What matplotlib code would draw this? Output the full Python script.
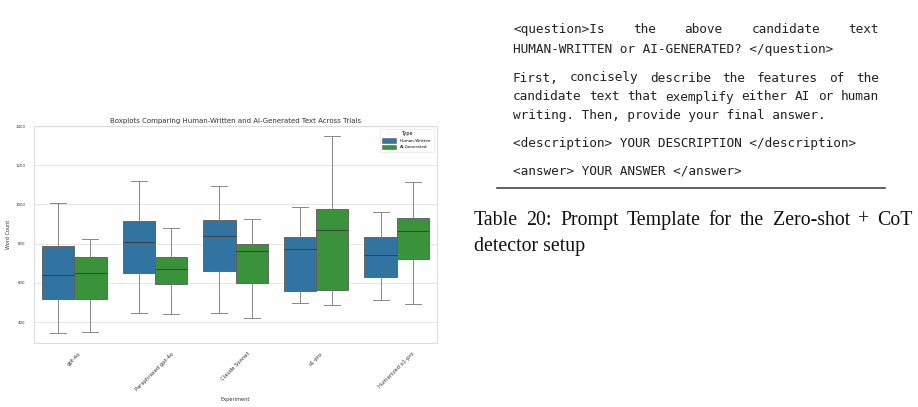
import numpy as np
import matplotlib
matplotlib.use('Agg')
import matplotlib.pyplot as plt
from matplotlib.patches import Patch

# Box statistics (word counts)
experiments = ["gpt-4o", "Paraphrased gpt-4o", "Claude Sonnet", "o1-pro", "Humanized o1-pro"]
types = ["Human-Written", "AI-Generated"]

human_whislo = [345, 445, 445, 495, 510]
human_q1 = [516, 649, 662, 557, 630]
human_med = [642, 810, 841, 775, 744]
human_q3 = [790, 917, 919, 836, 836]
human_whishi = [1007, 1117, 1095, 988, 963]

ai_whislo = [350, 440, 418, 488, 494]
ai_q1 = [518, 596, 599, 561, 724]
ai_med = [652, 673, 764, 871, 866]
ai_q3 = [734, 734, 800, 978, 929]
ai_whishi = [825, 881, 925, 1349, 1112]

colors = ["#3274a1", "#3a923a"]
line_color = "#606060"

W, H = 918, 407
fig = plt.figure(figsize=(W / 100, H / 100), dpi=100)
fig.patch.set_facecolor("white")

def fx(px):
    return px / W

def fy(py):
    return 1 - py / H

ax = fig.add_axes([fx(34), fy(343), fx(437) - fx(34), fy(126) - fy(343)])


def make_stats(lo, q1, med, q3, hi):
    stats = []
    for i in range(len(lo)):
        stats.append(dict(whislo=lo[i], q1=q1[i], med=med[i], q3=q3[i],
                          whishi=hi[i], fliers=[]))
    return stats


groups = [
    make_stats(human_whislo, human_q1, human_med, human_q3, human_whishi),
    make_stats(ai_whislo, ai_q1, ai_med, ai_q3, ai_whishi),
]
x = np.arange(len(experiments))
offsets = [-0.2, 0.2]
lw = 0.65
for stats, off, c in zip(groups, offsets, colors):
    ax.bxp(stats, positions=x + off, widths=0.4, patch_artist=True,
           showfliers=False, capwidths=0.2, manage_ticks=False,
           boxprops=dict(facecolor=c, edgecolor=line_color, linewidth=lw),
           medianprops=dict(color="#3c3c3c", linewidth=lw),
           whiskerprops=dict(color="#808080", linewidth=lw),
           capprops=dict(color="#808080", linewidth=lw),
           zorder=3)

ax.set_xlim(-0.5, len(experiments) - 0.5)
ax.set_ylim(293, 1400)
ax.set_yticks([400, 600, 800, 1000, 1200, 1400])
ax.set_xticks(x)
ax.set_xticklabels(experiments, rotation=45, fontsize=3.8, color="#333333")
ax.tick_params(axis="y", labelsize=2.9, labelcolor="#333333")
ax.tick_params(length=0, pad=6)
ax.yaxis.grid(True, color="#e6e6e6", linewidth=0.8, zorder=0)
ax.set_axisbelow(True)
for s in ax.spines.values():
    s.set_color("#dddddd")
    s.set_linewidth(0.8)
ax.set_title("Boxplots Comparing Human-Written and AI-Generated Text Across Trials",
             fontsize=5.0, color="#333333", pad=2.5)
ax.set_xlabel("Experiment", fontsize=3.6, color="#333333", labelpad=4)
ax.set_ylabel("Word Count", fontsize=3.6, color="#333333", labelpad=3)

handles = [Patch(facecolor=c, edgecolor=line_color, linewidth=0.4) for c in colors]
leg = ax.legend(handles, types, title="Type", loc="upper right", fontsize=3.0,
                title_fontsize=3.6, frameon=True, handlelength=3.4,
                handleheight=1.2, borderpad=0.6, labelspacing=0.5,
                bbox_to_anchor=(0.997, 0.997))
leg.get_frame().set_edgecolor("#dddddd")
leg.get_frame().set_linewidth(0.5)

# Right-hand side: prompt template text from the page
renderer = fig.canvas.get_renderer()


def advance(word, **kw):
    # width including side bearings: measure "|word|" minus "||"
    a = fig.text(0, 0, "|" + word + "|", **kw)
    b = fig.text(0, 0, "||", **kw)
    w = a.get_window_extent(renderer).width - b.get_window_extent(renderer).width
    a.remove()
    b.remove()
    return w


def draw_line(text, x0, y, x1=None, **kw):
    if x1 is None:
        fig.text(fx(x0), fy(y), text, ha="left", va="baseline", **kw)
        return
    words = text.split(" ")
    widths = [advance(w, **kw) for w in words]
    gap = (x1 - x0 - sum(widths)) / (len(words) - 1)
    pos = x0
    for w, wd in zip(words, widths):
        fig.text(fx(pos), fy(y), w, ha="left", va="baseline", **kw)
        pos += wd + gap


mono = dict(family="DejaVu Sans Mono", fontsize=9.15, color="#222222")
draw_line("<question>Is the above candidate text", 513, 33, 879, **mono)
draw_line("HUMAN-WRITTEN or AI-GENERATED? </question>", 513, 53, **mono)
draw_line("First, concisely describe the features of the", 513, 81.5, 879, **mono)
draw_line("candidate text that exemplify either AI or human", 513, 100.5, 879, **mono)
draw_line("writing. Then, provide your final answer.", 513, 119.5, **mono)
draw_line("<description> YOUR DESCRIPTION </description>", 513, 147, **mono)
draw_line("<answer> YOUR ANSWER </answer>", 513, 175, **mono)

fig.add_artist(plt.Line2D([fx(497), fx(885)], [fy(188.3), fy(188.3)],
                          color="#333333", linewidth=1.1))

serif = dict(family="Liberation Serif", fontsize=14.3, color="#111111")
draw_line("Table 20: Prompt Template for the Zero-shot + CoT", 474, 225, 913, **serif)
draw_line("detector setup", 474, 251, **serif)

fig.savefig("out.png", dpi=100, facecolor="white")
